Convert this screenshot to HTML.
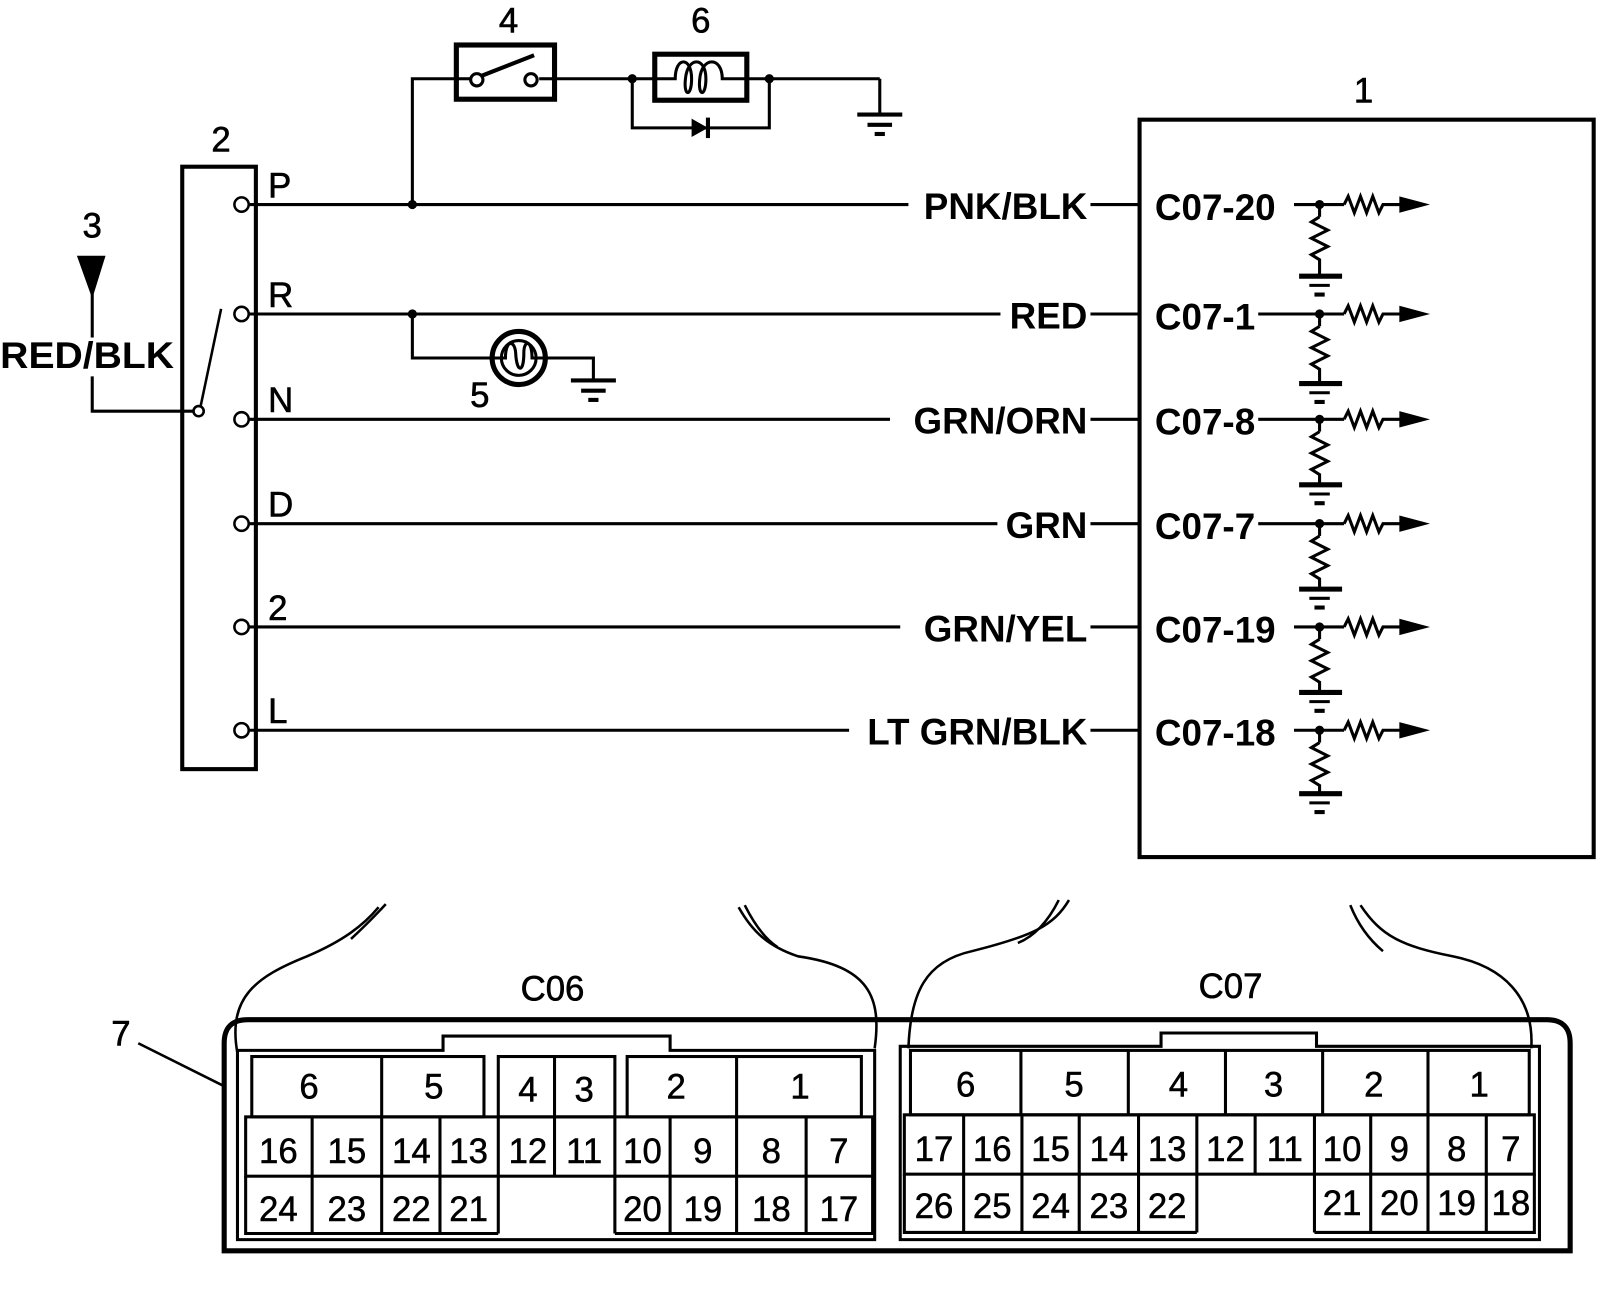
<!DOCTYPE html>
<html><head><style>html,body{margin:0;padding:0;background:#fff}svg{display:block}</style></head>
<body>
<svg width="1600" height="1302" viewBox="0 0 1564 1273" xmlns="http://www.w3.org/2000/svg" font-family="Liberation Sans, sans-serif" fill="none" stroke="#000">
<rect x="178" y="163" width="72" height="589" stroke-width="4"/>
<g stroke-width="2.5" fill="#fff">
<circle cx="236" cy="200" r="7"/><circle cx="236" cy="307" r="7"/><circle cx="236" cy="410" r="7"/><circle cx="236" cy="512" r="7"/><circle cx="236" cy="613" r="7"/><circle cx="236" cy="714" r="7"/>
<circle cx="194" cy="402" r="5"/>
</g>
<line x1="196" y1="397" x2="216" y2="302" stroke-width="2.5"/>
<g stroke-width="3">
<line x1="243" y1="200" x2="888" y2="200"/><line x1="1066" y1="200" x2="1114" y2="200"/>
<line x1="243" y1="307" x2="978" y2="307"/><line x1="1066" y1="307" x2="1114" y2="307"/>
<line x1="243" y1="410" x2="870" y2="410"/><line x1="1066" y1="410" x2="1114" y2="410"/>
<line x1="243" y1="512" x2="975" y2="512"/><line x1="1066" y1="512" x2="1114" y2="512"/>
<line x1="243" y1="613" x2="880" y2="613"/><line x1="1066" y1="613" x2="1114" y2="613"/>
<line x1="243" y1="714" x2="830" y2="714"/><line x1="1066" y1="714" x2="1114" y2="714"/>
<polyline points="403,200 403,77 446,77"/>
<line x1="542" y1="77" x2="640" y2="77"/>
<line x1="730" y1="77" x2="860" y2="77"/><line x1="860" y1="77" x2="860" y2="112"/>
<polyline points="618,77 618,125 752,125 752,77"/>
<polyline points="403,307 403,350 481,350"/>
<polyline points="533,350 580,350 580,372"/>
<line x1="90" y1="285" x2="90" y2="330"/>
<polyline points="90,368 90,402 189,402"/>
</g>
<g fill="#000" stroke="none">
<circle cx="403" cy="200" r="4.5"/><circle cx="403" cy="307" r="4.5"/><circle cx="618" cy="77" r="4.5"/><circle cx="752" cy="77" r="4.5"/>
<polygon points="75,250 103,250 90,292"/>
<polygon points="676,116 692,125 676,134"/>
</g>
<line x1="692" y1="115" x2="692" y2="135" stroke-width="4"/>
<g stroke-width="4"><line x1="838" y1="112" x2="882" y2="112"/><line x1="848" y1="122" x2="872" y2="122"/><line x1="855" y1="131" x2="865" y2="131"/>
<line x1="558" y1="372" x2="602" y2="372"/><line x1="568" y1="382" x2="592" y2="382"/><line x1="575" y1="391" x2="585" y2="391"/></g>
<rect x="446" y="44" width="96" height="53" stroke-width="5"/>
<line x1="446" y1="77" x2="459" y2="77" stroke-width="3"/><line x1="527" y1="77" x2="542" y2="77" stroke-width="3"/>
<circle cx="466" cy="78" r="6" stroke-width="3"/><circle cx="519" cy="78" r="6" stroke-width="3"/>
<line x1="471" y1="74" x2="522" y2="54" stroke-width="4"/>
<rect x="640" y="53" width="90" height="45" stroke-width="5"/>
<path d="M640,77 H660 C660,55 676,55 676,77 C676,95 668,95 670,77 C672,55 690,55 690,77 C690,95 682,95 684,77 C686,55 706,55 706,77 H730" stroke-width="3"/>
<circle cx="507" cy="350" r="26" stroke-width="5"/>
<path d="M481,350 H494 C494,332 503,332 504,345 C505,365 512,365 512,345 C512,332 520,332 520,350 H533" stroke-width="3"/>
<circle cx="507" cy="350" r="17" stroke-width="3"/>
<rect x="1114" y="117" width="444" height="721" stroke-width="4"/>
<g stroke-width="3">
<g transform="translate(0,200)"><line x1="1265" y1="0" x2="1314" y2="0"/><path d="M1314,0 l4,-8 l6,16 l6,-16 l6,16 l6,-16 l6,16 l4,-8 H1372"/><line x1="1290" y1="0" x2="1290" y2="12"/><path d="M1290,12 l-8,5 l16,8 l-16,8 l16,8 l-16,8 l8,5 V70"/><line x1="1270" y1="70" x2="1312" y2="70" stroke-width="5"/><line x1="1280" y1="79" x2="1300" y2="79"/><line x1="1285" y1="88" x2="1295" y2="88" stroke-width="4"/></g>
<g transform="translate(0,307)"><line x1="1230" y1="0" x2="1314" y2="0"/><path d="M1314,0 l4,-8 l6,16 l6,-16 l6,16 l6,-16 l6,16 l4,-8 H1372"/><line x1="1290" y1="0" x2="1290" y2="12"/><path d="M1290,12 l-8,5 l16,8 l-16,8 l16,8 l-16,8 l8,5 V68"/><line x1="1270" y1="68" x2="1312" y2="68" stroke-width="5"/><line x1="1280" y1="77" x2="1300" y2="77"/><line x1="1285" y1="86" x2="1295" y2="86" stroke-width="4"/></g>
<g transform="translate(0,410)"><line x1="1230" y1="0" x2="1314" y2="0"/><path d="M1314,0 l4,-8 l6,16 l6,-16 l6,16 l6,-16 l6,16 l4,-8 H1372"/><line x1="1290" y1="0" x2="1290" y2="12"/><path d="M1290,12 l-8,5 l16,8 l-16,8 l16,8 l-16,8 l8,5 V64"/><line x1="1270" y1="64" x2="1312" y2="64" stroke-width="5"/><line x1="1280" y1="73" x2="1300" y2="73"/><line x1="1285" y1="82" x2="1295" y2="82" stroke-width="4"/></g>
<g transform="translate(0,512)"><line x1="1230" y1="0" x2="1314" y2="0"/><path d="M1314,0 l4,-8 l6,16 l6,-16 l6,16 l6,-16 l6,16 l4,-8 H1372"/><line x1="1290" y1="0" x2="1290" y2="12"/><path d="M1290,12 l-8,5 l16,8 l-16,8 l16,8 l-16,8 l8,5 V64"/><line x1="1270" y1="64" x2="1312" y2="64" stroke-width="5"/><line x1="1280" y1="73" x2="1300" y2="73"/><line x1="1285" y1="82" x2="1295" y2="82" stroke-width="4"/></g>
<g transform="translate(0,613)"><line x1="1265" y1="0" x2="1314" y2="0"/><path d="M1314,0 l4,-8 l6,16 l6,-16 l6,16 l6,-16 l6,16 l4,-8 H1372"/><line x1="1290" y1="0" x2="1290" y2="12"/><path d="M1290,12 l-8,5 l16,8 l-16,8 l16,8 l-16,8 l8,5 V64"/><line x1="1270" y1="64" x2="1312" y2="64" stroke-width="5"/><line x1="1280" y1="73" x2="1300" y2="73"/><line x1="1285" y1="82" x2="1295" y2="82" stroke-width="4"/></g>
<g transform="translate(0,714)"><line x1="1265" y1="0" x2="1314" y2="0"/><path d="M1314,0 l4,-8 l6,16 l6,-16 l6,16 l6,-16 l6,16 l4,-8 H1372"/><line x1="1290" y1="0" x2="1290" y2="12"/><path d="M1290,12 l-8,5 l16,8 l-16,8 l16,8 l-16,8 l8,5 V62"/><line x1="1270" y1="62" x2="1312" y2="62" stroke-width="5"/><line x1="1280" y1="71" x2="1300" y2="71"/><line x1="1285" y1="80" x2="1295" y2="80" stroke-width="4"/></g>
</g>
<g fill="#000" stroke="none">
<g transform="translate(0,200)"><circle cx="1290" cy="0" r="4.5"/><polygon points="1368,-8 1398,0 1368,8"/></g>
<g transform="translate(0,307)"><circle cx="1290" cy="0" r="4.5"/><polygon points="1368,-8 1398,0 1368,8"/></g>
<g transform="translate(0,410)"><circle cx="1290" cy="0" r="4.5"/><polygon points="1368,-8 1398,0 1368,8"/></g>
<g transform="translate(0,512)"><circle cx="1290" cy="0" r="4.5"/><polygon points="1368,-8 1398,0 1368,8"/></g>
<g transform="translate(0,613)"><circle cx="1290" cy="0" r="4.5"/><polygon points="1368,-8 1398,0 1368,8"/></g>
<g transform="translate(0,714)"><circle cx="1290" cy="0" r="4.5"/><polygon points="1368,-8 1398,0 1368,8"/></g>
</g>
<g fill="#000" stroke="#000" stroke-width="0.6" font-size="34">
<text x="497" y="32" text-anchor="middle">4</text><text x="685" y="32" text-anchor="middle">6</text>
<text x="216" y="148" text-anchor="middle">2</text><text x="1333" y="100" text-anchor="middle">1</text>
<text x="90" y="232" text-anchor="middle">3</text><text x="469" y="398" text-anchor="middle">5</text>
<text x="262" y="193">P</text><text x="262" y="300">R</text><text x="262" y="403">N</text><text x="262" y="505">D</text><text x="262" y="606">2</text><text x="262" y="707">L</text>
<text x="540" y="978" text-anchor="middle">C06</text><text x="1203" y="976" text-anchor="middle">C07</text>
<text x="118" y="1022" text-anchor="middle">7</text>
</g>
<g fill="#000" stroke="none" font-size="36" font-weight="bold">
<text x="0" y="360" textLength="170" lengthAdjust="spacingAndGlyphs">RED/BLK</text>
<g text-anchor="end"><text x="1063" y="214">PNK/BLK</text><text x="1063" y="321">RED</text><text x="1063" y="424">GRN/ORN</text><text x="1063" y="526">GRN</text><text x="1063" y="627">GRN/YEL</text><text x="1063" y="728">LT GRN/BLK</text></g>
<text x="1129" y="215">C07-20</text><text x="1129" y="322">C07-1</text><text x="1129" y="425">C07-8</text><text x="1129" y="527">C07-7</text><text x="1129" y="628">C07-19</text><text x="1129" y="729">C07-18</text>
</g>
<line x1="135" y1="1020" x2="219" y2="1062" stroke-width="2.5"/>
<path d="M219,1223 V1020 Q219,997 242,997 H1512 Q1535,997 1535,1020 V1223 Z" stroke-width="5"/>
<g stroke-width="3">
<path d="M232,1212 V1027 H433 V1013 H655 V1027 H855 V1212 Z"/>
<path d="M880,1212 V1023 H1135 V1010 H1287 V1023 H1505 V1212 Z"/>
</g>
<g stroke-width="3">
<rect x="246" y="1033" width="227" height="59"/><line x1="373" y1="1033" x2="373" y2="1092"/>
<rect x="487" y="1033" width="114" height="59"/><line x1="542" y1="1033" x2="542" y2="1092"/>
<rect x="613" y="1033" width="229" height="59"/><line x1="720" y1="1033" x2="720" y2="1092"/>
<rect x="240" y="1092" width="613" height="58"/>
<path d="M305,1092 V1206 M373,1092 V1206 M430,1092 V1206 M487,1092 V1206 M542,1092 V1150 M601,1092 V1206 M655,1092 V1206 M720,1092 V1206 M788,1092 V1206"/>
<path d="M240,1150 V1206 H487 M601,1206 H853 V1150"/>
<rect x="890" y="1027" width="605" height="63"/>
<path d="M998,1027 V1090 M1103,1027 V1090 M1198,1027 V1090 M1293,1027 V1090 M1396,1027 V1090"/>
<rect x="884" y="1090" width="616" height="58"/>
<path d="M942,1090 V1205 M999,1090 V1205 M1055,1090 V1205 M1113,1090 V1205 M1170,1090 V1205 M1227,1090 V1148 M1285,1090 V1205 M1340,1090 V1205 M1396,1090 V1205 M1453,1090 V1205"/>
<path d="M884,1148 V1205 H1170 M1285,1205 H1500 V1148"/>
</g>
<g fill="#000" stroke="#000" stroke-width="0.5" font-size="34" text-anchor="middle">
<text x="302" y="1074">6</text><text x="424" y="1074">5</text><text x="516" y="1077">4</text><text x="571" y="1077">3</text><text x="661" y="1074">2</text><text x="782" y="1074">1</text>
<text x="272" y="1137">16</text><text x="339" y="1137">15</text><text x="402" y="1137">14</text><text x="458" y="1137">13</text><text x="516" y="1137">12</text><text x="571" y="1137">11</text><text x="628" y="1137">10</text><text x="687" y="1137">9</text><text x="754" y="1137">8</text><text x="820" y="1137">7</text>
<text x="272" y="1194">24</text><text x="339" y="1194">23</text><text x="402" y="1194">22</text><text x="458" y="1194">21</text><text x="628" y="1194">20</text><text x="687" y="1194">19</text><text x="754" y="1194">18</text><text x="820" y="1194">17</text>
<text x="944" y="1072">6</text><text x="1050" y="1072">5</text><text x="1152" y="1072">4</text><text x="1245" y="1072">3</text><text x="1343" y="1072">2</text><text x="1446" y="1072">1</text>
<text x="913" y="1135">17</text><text x="970" y="1135">16</text><text x="1027" y="1135">15</text><text x="1084" y="1135">14</text><text x="1141" y="1135">13</text><text x="1198" y="1135">12</text><text x="1256" y="1135">11</text><text x="1312" y="1135">10</text><text x="1368" y="1135">9</text><text x="1424" y="1135">8</text><text x="1477" y="1135">7</text>
<text x="913" y="1191">26</text><text x="970" y="1191">25</text><text x="1027" y="1191">24</text><text x="1084" y="1191">23</text><text x="1141" y="1191">22</text><text x="1312" y="1188">21</text><text x="1368" y="1188">20</text><text x="1424" y="1188">19</text><text x="1477" y="1188">18</text>
</g>
<g stroke-width="2.5">
<path d="M232,1030 C222,975 250,955 300,935 C335,920 355,905 370,887"/>
<path d="M343,918 C355,907 365,897 377,884" />
<path d="M855,1025 C862,975 850,945 780,935 C750,925 735,910 722,887"/>
<path d="M728,885 C738,905 748,918 760,926"/>
<path d="M888,1025 C890,970 905,940 950,930 C1010,915 1030,905 1045,880"/>
<path d="M1035,880 C1025,900 1012,915 995,922"/>
<path d="M1497,1025 C1500,975 1470,945 1420,935 C1370,925 1350,915 1330,885"/>
<path d="M1320,885 C1328,905 1340,920 1352,930"/>
</g>
</svg>
</body></html>
